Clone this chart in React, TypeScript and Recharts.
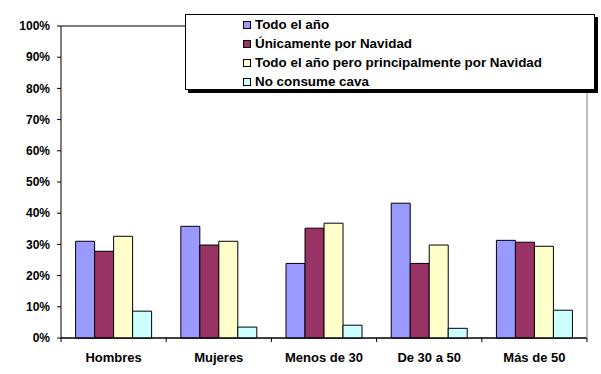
import React from "react";
import { BarChart, Bar, XAxis, YAxis, CartesianGrid, ReferenceLine, Legend } from "recharts";

const categories = ["Hombres", "Mujeres", "Menos de 30", "De 30 a 50", "Más de 50"];
const todoElAno = [31.0, 35.8, 23.9, 43.2, 31.3];
const unicamenteNavidad = [27.8, 29.8, 35.2, 23.9, 30.7];
const principalmenteNavidad = [32.6, 31.0, 36.8, 29.8, 29.4];
const noConsume = [8.6, 3.5, 4.1, 3.1, 8.9];
const yTicks = [0, 10, 20, 30, 40, 50, 60, 70, 80, 90, 100];

const seriesNames = [
  "Todo el año",
  "Únicamente por Navidad",
  "Todo el año pero principalmente por Navidad",
  "No consume cava",
];
const colors = ["#9999FF", "#993366", "#FFFFCC", "#CCFFFF"];

const data = categories.map((c, i) => ({
  name: c,
  a: todoElAno[i],
  b: unicamenteNavidad[i],
  c: principalmenteNavidad[i],
  d: noConsume[i],
}));

const FONT = "'Liberation Sans', Arial, sans-serif";

const CategoryTick = (props: any) => {
  const { x, y, payload, index, visibleTicksCount } = props;
  const off = payload.offset || 0;
  return (
    <g>
      <line x1={x - off} x2={x - off} y1={y} y2={y + 4} stroke="#000" />
      {index === visibleTicksCount - 1 && (
        <line x1={x + off} x2={x + off} y1={y} y2={y + 4} stroke="#000" />
      )}
      <text
        x={x}
        y={y + 24}
        textAnchor="middle"
        fontFamily={FONT}
        fontWeight="bold"
        fontSize={13}
        fill="#000"
      >
        {payload.value}
      </text>
    </g>
  );
};

const LegendContent = (props: any) => {
  const raw = props.payload || [];
  const items = [...raw].sort(
    (p: any, q: any) => seriesNames.indexOf(p.value) - seriesNames.indexOf(q.value)
  );
  return (
    <div
      style={{
        width: 408,
        height: 74,
        border: "1px solid #000",
        boxShadow: "3px 3px 0 #000",
        background: "#fff",
        boxSizing: "content-box",
        position: "relative",
      }}
    >
      {items.map((it: any, i: number) => (
        <div
          key={i}
          style={{
            position: "absolute",
            left: 57,
            top: 0 + i * 19,
            height: 19,
            display: "flex",
            alignItems: "center",
            fontFamily: FONT,
            fontWeight: "bold",
            fontSize: 13.4,
            color: "#000",
            whiteSpace: "nowrap",
          }}
        >
          <span
            style={{
              display: "inline-block",
              width: 6,
              height: 6,
              background: it.color,
              border: "1px solid #000",
              marginRight: 4,
            }}
          />
          {it.value}
        </div>
      ))}
    </div>
  );
};

export default function App() {
  return (
    <div style={{ position: "absolute", left: 0, top: 0, width: 601, height: 374, background: "#fff" }}>
      <BarChart
        width={601}
        height={374}
        data={data}
        margin={{ top: 26, right: 0, left: 0, bottom: 0 }}
        barCategoryGap="13.9%"
        barGap={0}
      >
        <CartesianGrid vertical={false} stroke="#000" strokeOpacity={1} />
        <XAxis
          dataKey="name"
          height={36}
          axisLine={{ stroke: "#000" }}
          tickLine={false}
          tickSize={0}
          tickMargin={0}
          tick={<CategoryTick />}
          interval={0}
        />
        <YAxis
          yAxisId="left"
          width={61}
          domain={[0, 100]}
          ticks={yTicks}
          interval={0}
          tickFormatter={(v: number) => `${v}%`}
          axisLine={{ stroke: "#000" }}
          tickLine={{ stroke: "#000" }}
          tickSize={4}
          tickMargin={7}
          tick={{ fill: "#000", fontFamily: FONT, fontWeight: "bold", fontSize: 12 }}
        />
        <YAxis
          yAxisId="right"
          orientation="right"
          width={14}
          domain={[0, 100]}
          tick={false}
          tickLine={false}
          axisLine={{ stroke: "#808080" }}
        />
        <ReferenceLine yAxisId="left" y={100} stroke="#808080" />
        <Bar yAxisId="left" dataKey="a" name={seriesNames[0]} fill={colors[0]} stroke="#000" isAnimationActive={false} />
        <Bar yAxisId="left" dataKey="b" name={seriesNames[1]} fill={colors[1]} stroke="#000" isAnimationActive={false} />
        <Bar yAxisId="left" dataKey="c" name={seriesNames[2]} fill={colors[2]} stroke="#000" isAnimationActive={false} />
        <Bar yAxisId="left" dataKey="d" name={seriesNames[3]} fill={colors[3]} stroke="#000" isAnimationActive={false} />
        <Legend
          layout="vertical"
          align="center"
          verticalAlign="middle"
          content={<LegendContent />}
          wrapperStyle={{ position: "absolute", left: 185, top: 14, width: 412, height: 80 }}
        />
      </BarChart>
    </div>
  );
}
